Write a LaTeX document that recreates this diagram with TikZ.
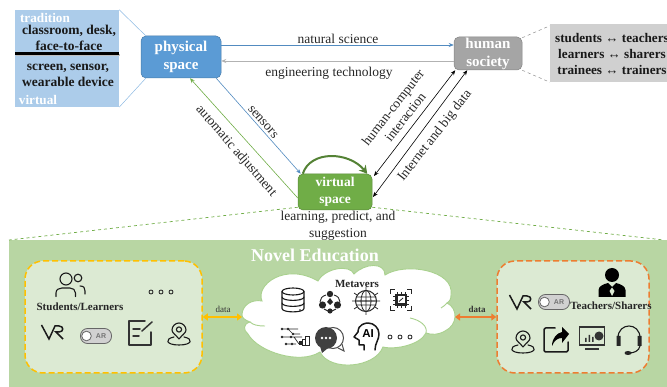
\documentclass[tikz,border=0pt]{standalone}
\usepackage{fontspec}
\setmainfont{Liberation Serif}
\setsansfont{Liberation Sans}
\usetikzlibrary{arrows.meta,calc}
\definecolor{cBlue}{HTML}{5B9BD5}
\definecolor{cLightBlue}{HTML}{ACCCEA}
\definecolor{cGray}{HTML}{A5A5A5}
\definecolor{cLightGray}{HTML}{D0D0D0}
\definecolor{cGreen}{HTML}{70AD47}
\definecolor{cDarkGreen}{HTML}{548235}
\definecolor{cBand}{HTML}{B8D6A3}
\definecolor{cPanel}{HTML}{DCEAD3}
\definecolor{cYellow}{HTML}{FFC000}
\definecolor{cOrange}{HTML}{ED7D31}
\definecolor{cCloud}{HTML}{A9D18E}
\definecolor{cIcon}{HTML}{1A1A1A}
\newcommand{\fs}[1]{\fontsize{#1}{#1}\selectfont}
\tikzset{
 spacebox/.style={draw=#1!80!black,fill=#1,rounded corners=5pt,line width=.5pt,text=white,font=\fs{15}\bfseries,align=center,inner sep=0pt},
 lbl/.style={font=\fs{13.5},align=center,inner sep=0pt,text=black!85},
 blbl/.style={font=\fs{13.5}\bfseries,align=center,inner sep=0pt,text=black!90},
 ttl/.style={font=\fs{13.2}\bfseries,inner sep=0pt,text=white},
 small/.style={font=\fs{11}\bfseries,inner sep=0pt,text=black!85},
 datal/.style={font=\fs{9},inner sep=0pt,text=black!80},
 thinarrow/.style={line width=.6pt,-{Stealth[length=5pt,width=4pt]}},
 dblarrow/.style={line width=.6pt,black,{Stealth[length=5pt,width=4pt]}-{Stealth[length=5pt,width=4pt]}},
 dataarrow/.style={line width=1.6pt,{Triangle[length=5pt,width=7pt]}-{Triangle[length=5pt,width=7pt]}},
 panel/.style={draw=#1,fill=cPanel,line width=1.5pt,dash pattern=on 6pt off 3pt,rounded corners=18pt},
 ic/.style={draw=cIcon,line width=1.1pt,line cap=round,line join=round}
}
\newcommand{\icdots}[1]{\begin{scope}[shift={(#1)}]
 \foreach \q in {-10,0,10}{\draw[cIcon,line width=.8pt] (\q,0) circle (2);}
\end{scope}}
\newcommand{\icvr}[1]{\begin{scope}[shift={(#1)}]
 \draw[cIcon,line width=1.5pt,line join=miter] (-10.5,-7) -- (-3,7) -- (3,-6) -- (7,-6) .. controls (12,-6) and (12,0) .. (7,0) -- (4,0) -- (11,7);
\end{scope}}
\newcommand{\ictoggle}[2]{\begin{scope}[shift={(#1)}]
 \draw[draw=black!60,fill=black!18,line width=.8pt,rounded corners=7pt] (-15.5,-7.5) rectangle (15.5,7.5);
 \draw[draw=black!60,fill=white,line width=.8pt] (-9.5,0) circle (4.8);
 \node[inner sep=0pt,text=black!55,font=\sffamily\bfseries\fs{7}] (#2) at (5,0) {AR};
\end{scope}}
\newcommand{\icpin}[1]{\begin{scope}[shift={(#1)}]
 \draw[ic] (0,5) .. controls (-3,1) and (-7,-1) .. (-7,-4) .. controls (-7,-8) and (-3.5,-11) .. (0,-11) .. controls (3.5,-11) and (7,-8) .. (7,-4) .. controls (7,-1) and (3,1) .. (0,5);
 \draw[ic] (0,-4.5) circle (2.6);
 \draw[ic] (-5,3) .. controls (-15,5) and (-13,11) .. (0,11) .. controls (13,11) and (15,5) .. (5,3);
\end{scope}}
\begin{document}
\begin{tikzpicture}[x=1pt,y=-1pt]
\useasboundingbox (0,0) rectangle (667,387);
% band
\fill[cBand] (9,240) rectangle (667,387);
% space nodes
\node[spacebox=cBlue,minimum width=80pt,minimum height=42pt] (physical) at (181,57) {physical\\[3pt]space};
\node[spacebox=cGray,minimum width=68pt,minimum height=33pt] (human) at (488,53.5) {human\\[3pt]society};
\node[spacebox=cGreen,minimum width=74pt,minimum height=36pt,font=\fs{13.5}\bfseries] (virtual) at (335,192) {virtual\\[3pt]space};
% left box
\node[fill=cLightBlue,minimum width=104pt,minimum height=97pt,inner sep=0pt] (leftbox) at (67,58.5) {};
\node[ttl,text=white] (trad) at (45,18) {tradition};
\node[blbl] (cls) at (69,38) {classroom, desk,\\[3pt]face-to-face};
\coordinate (divL) at (15,54);
\coordinate (divR) at (119,54);
\draw[black!25,line width=2.4pt] ([yshift=-1pt,xshift=1pt]divL) -- ([yshift=-1pt,xshift=1pt]divR);
\draw[black,line width=3pt] (divL) -- (divR);
\node[blbl] (scr) at (68,75.5) {screen, sensor,\\[3pt]wearable device};
\node[ttl] (virt) at (38,100) {virtual};
% right box
\node[fill=cLightGray,minimum width=117pt,minimum height=58pt,inner sep=0pt] (rightbox) at (608.5,53) {};
\node[blbl,font=\fs{13.2}\bfseries] (roles) at (612,54) {students ↔ teachers\\[2.6pt]learners ↔ sharers\\[2.6pt]trainees ↔ trainers};
% callouts
\draw[cBlue!70,line width=.5pt] (leftbox.north east) -- ([xshift=5pt]physical.north west);
\draw[cBlue!70,line width=.5pt] (leftbox.south east) -- ([xshift=5pt]physical.south west);
\draw[black!45,line width=.5pt,dashed] ([yshift=-1pt]human.north east) -- ([yshift=-2pt]rightbox.north west);
\draw[black!45,line width=.5pt,dashed] (human.south east) -- (rightbox.south west);
% arrows
\draw[thinarrow,cBlue!90!black] ([yshift=12pt]physical.east) -- ([yshift=8.5pt]human.west);
\node[lbl] (ns) at (338,39) {natural science};
\draw[thinarrow,black!30] ([yshift=-7.5pt]human.west) -- ([yshift=-4pt]physical.east);
\node[lbl] (et) at (329,73) {engineering technology};
\draw[thinarrow,cBlue!90!black] ([xshift=-5pt]physical.south east) -- ([xshift=3pt]virtual.north west);
\node[lbl,rotate=-49] (sens) at (263,122) {sensors};
\draw[thinarrow,cGreen] ([yshift=-6pt]virtual.west) -- ([xshift=9pt]physical.south);
\node[lbl,rotate=-49] (auto) at (236,151) {automatic adjustment};
\coordinate (vA) at (374,176);
\coordinate (vB) at (373,197);
\draw[dblarrow] ([xshift=-67pt]human.south east) -- (vA);
\draw[dblarrow] ([xshift=-55pt]human.south east) -- (vB);
\node[lbl,rotate=52] (hci) at (399,112) {human-computer\\[2pt]interaction};
\node[lbl,rotate=52] (net) at (435,136) {Internet and big data};
\draw[cDarkGreen,line width=2pt,-{Stealth[length=8pt,width=9pt]}] ([xshift=5pt]virtual.north west) .. controls +(8,-24) and +(-18,-22) .. ([xshift=-5pt]virtual.north east);
\node[lbl] (lps) at (338,226) {learning, predict, and\\[3pt]suggestion};
% guide lines
\draw[cGreen,line width=.7pt,dashed] ([yshift=3pt]virtual.south west) -- (9,240);
\draw[cGreen,line width=.7pt,dashed] ([yshift=3pt]virtual.south east) -- (664,240);
% title
\node[inner sep=0pt,text=white,font=\fs{18}\bfseries] (title) at (315,255) {Novel Education};
% panels
\node[panel=cYellow,minimum width=177pt,minimum height=112pt] (pL) at (113.5,317) {};
\node[panel=cOrange,minimum width=152pt,minimum height=112pt] (pR) at (573,317) {};
% cloud
\draw[cCloud,fill=white,line width=.9pt] (242,315) .. controls (242,305) and (252,299) .. (262,301)
 .. controls (255,285) and (285,262) .. (318,281)
 .. controls (325,268) and (350,264) .. (354,274)
 .. controls (365,263) and (385,262) .. (385,275)
 .. controls (405,262) and (455,270) .. (451,295)
 .. controls (451,299) and (450,301) .. (447,303)
 .. controls (458,308) and (458,325) .. (445,331)
 .. controls (438,335) and (432,335) .. (426,333)
 .. controls (420,345) and (395,350) .. (383,347)
 .. controls (375,368) and (330,372) .. (320,352)
 .. controls (300,365) and (258,352) .. (248,334)
 .. controls (243,330) and (243,324) .. (250,322)
 .. controls (245,320) and (242,318) .. (242,315) -- cycle;
\draw[cCloud,line width=.9pt] (265,326) .. controls (258,326) and (253,325) .. (250,322);
\draw[cCloud,line width=.9pt] (447,303) .. controls (445,305) and (443,307) .. (441,308);
\draw[cCloud,line width=.9pt] (426,333) .. controls (428,326) and (420,320) .. (410,318);
\coordinate (cloudW) at (242,317);
\coordinate (cloudE) at (455,317);
% data arrows
\draw[dataarrow,cYellow] (pL.east |- cloudW) -- (cloudW);
\draw[dataarrow,cOrange] (cloudE) -- (pR.west |- cloudE);
\node[datal] (d1) at (223,309) {data};
\node[datal,font=\fs{9}\bfseries] (d2) at (477,309) {data};
% left panel contents
\draw[ic] (66,279) circle (6);
\draw[ic] (78,278) circle (3.8);
\draw[ic] (56,296.5) -- (56,293) .. controls (56,289.5) and (59,288) .. (62,288) -- (70,288) .. controls (73,288) and (75.5,290) .. (75.5,293) -- (75.5,296.5);
\draw[ic] (80,286) .. controls (84,286) and (85,288) .. (85,291) -- (85,294);
\icdots{161,292}
\node[small] (stu) at (80,307) {Students/Learners};
\icvr{52,332}
\ictoggle{96,336}{arL}
\begin{scope}[shift={(140,333)}]
 \draw[ic,line width=1.5pt,draw=black!80] (11,-1) -- (11,12) -- (-11,12) -- (-11,-12) -- (5,-12);
 \draw[ic,line width=1.5pt,draw=black!80] (12,-11) -- (2,-2);
 \draw[ic,line width=1.5pt,draw=black!80] (-7,-4) -- (0,-4) (-7,3) -- (-1,3);
\end{scope}
\icpin{179,334}
% cloud contents
\node[small,font=\fs{11}\bfseries] (meta) at (357,284) {Metavers};
\begin{scope}[shift={(293,300)}]
 \draw[ic] (0,-8.5) ellipse (11 and 3.5);
 \draw[ic] (-11,-8.5) -- (-11,8.5) .. controls (-11,13) and (11,13) .. (11,8.5) -- (11,-8.5);
 \draw[ic] (-11,-3) .. controls (-11,1.5) and (11,1.5) .. (11,-3);
 \draw[ic] (-11,3) .. controls (-11,7.5) and (11,7.5) .. (11,3);
 \fill[cIcon] (7,-.5) circle (.8) (7,5.5) circle (.8) (7,10) circle (.8);
\end{scope}
\begin{scope}[shift={(330,302)}]
 \fill[black!85] (0,-8) circle (3.2) (-7.5,3) circle (3.6) (7.5,3) circle (3.6) (0,9) circle (2.6);
 \fill[black!85] (-3,0) -- (0,-4) -- (3,0) -- (0,3) -- cycle;
 \draw[black!85,line width=.9pt] (-4,-7) .. controls (-8,-6) and (-10,-3) .. (-10,0) (4,-7) .. controls (8,-6) and (10,-3) .. (10,0) (-6,7) -- (-2,9) (6,7) -- (2,9);
\end{scope}
\begin{scope}[shift={(366,301)}]
 \draw[black!85,line width=.7pt] (-14,0) -- (14,0) (0,-14) -- (0,14) (-12,-8) -- (-9,-6) (12,-8) -- (9,-6) (-12,8) -- (-9,6) (12,8) -- (9,6);
 \draw[black!85,line width=1pt] (0,0) circle (10.5);
 \draw[black!85,line width=.8pt] (0,0) ellipse (5 and 10.5) (-10,-4) -- (10,-4) (-10,4) -- (10,4) (-10.4,0) -- (10.4,0);
\end{scope}
\begin{scope}[shift={(401,300)}]
 \draw[black!85,line width=1.2pt] (-10.5,-6) -- (-10.5,-10.5) -- (-6,-10.5) (6,-10.5) -- (10.5,-10.5) -- (10.5,-6) (10.5,6) -- (10.5,10.5) -- (6,10.5) (-6,10.5) -- (-10.5,10.5) -- (-10.5,6);
 \foreach \q in {-4,0,4}{\draw[black!85,line width=.7pt] (\q,-8) -- (\q,8) (-8,\q) -- (8,\q);}
 \fill[black!85] (-6,-6) rectangle (6,6);
 \fill[white] (-3.5,-3.5) rectangle (3.5,3.5);
 \draw[black!85,line width=.8pt] (-2,1.5) -- (2,-2);
\end{scope}
\begin{scope}[shift={(296,338)}]
 \draw[black!85,line width=.7pt] (-14,-9) -- (2,-9) (-8,-9) -- (-3,-4) -- (4,-4) (-14,-1) -- (6,-1) (-10,6) -- (0,6) (-2,-1) -- (3,6);
 \fill[black!85] (-14,-9) circle (1.4) (-8,-9) circle (1.4) (-3,-4) circle (1.4) (-14,-1) circle (1.4) (-5,-1) circle (1.4) (-10,6) circle (1.4) (-4,6) circle (1.4);
 \draw[black!85,line width=.8pt] (6,1) rectangle (9,7) (9.5,-2) rectangle (13,7);
 \fill[black!85] (3,3) rectangle (5.5,7);
\end{scope}
\begin{scope}[shift={(330,339)}]
 \draw[black!70,line width=1pt,fill=white] (3,-1) circle (10.5);
 \draw[black!70,line width=1pt] (8,9) -- (14,12) -- (12,5);
 \fill[black!75] (-4,-1) circle (11);
 \fill[black!75] (-10,7) -- (-8,14) -- (-2,9) -- cycle;
 \fill[white] (-8,-1) circle (1.4) (-4,-1) circle (1.4) (0,-1) circle (1.4);
\end{scope}
\begin{scope}[shift={(366,337)}]
 \draw[ic,line width=1.5pt,fill=white] (-2,13) -- (-2,8) -- (-7,8) -- (-7,3) -- (-12,0) -- (-8,-5) .. controls (-8,-13) and (0,-14) .. (2,-14) .. controls (8,-14) and (13,-9) .. (13,-3) .. controls (13,3) and (9,6) .. (9,13);
 \node[inner sep=0pt,font=\sffamily\bfseries\fs{11.5},text=black] (aiT) at (2,-3) {AI};
\end{scope}
\icdots{400,337}
% right panel contents
\begin{scope}[shift={(612,283)}]
 \fill[black] (0,-8) circle (7);
 \fill[black] (-13.5,14) -- (-13.5,7) .. controls (-13.5,3) and (-8,1) .. (-4,0) -- (0,4) -- (4,0) .. controls (8,1) and (13.5,3) .. (13.5,7) -- (13.5,14) -- cycle;
 \fill[cPanel] (0,4.5) -- (-2.5,8) -- (0,13) -- (2.5,8) -- cycle;
\end{scope}
\icvr{520,302}
\ictoggle{554,302}{arR}
\node[small] (tea) at (611,306) {Teachers/Sharers};
\icpin{523,342}
\begin{scope}[shift={(556,340)}]
 \draw[ic,line width=1.5pt,rounded corners=1.5pt] (-1,-12) -- (-12,-12) -- (-12,12) -- (12,12) -- (12,2);
 \fill[black] (6,-13) -- (13,-6) -- (6,3) -- (6,-2) .. controls (1,-2) and (-2,1) .. (-4,6) .. controls (-4,-2) and (1,-7) .. (6,-8) -- cycle;
\end{scope}
\begin{scope}[shift={(592,336)}]
 \draw[black!80,line width=1.6pt,fill=cPanel] (-12.5,-9) rectangle (12.5,9);
 \fill[black!80] (-7,2) rectangle (-5.5,6) (-3.5,-1) rectangle (-2,6) (0,1) rectangle (1.5,6) (7,0) circle (4.5);
 \draw[black!80,line width=1.6pt] (-7,13) -- (7,13);
\end{scope}
\begin{scope}[shift={(629,340)}]
 \draw[ic,line width=1.1pt] (-11,-2) .. controls (-11,-18) and (11,-18) .. (11,-2);
 \fill[black!85] (-12.5,-4) rectangle (-8.5,6) (8.5,-4) rectangle (12.5,6);
 \draw[ic] (11,6) .. controls (10,11) and (5,13) .. (0,13);
 \fill[black!85] (-1,13) ellipse (3.5 and 2);
\end{scope}
\end{tikzpicture}
\end{document}
